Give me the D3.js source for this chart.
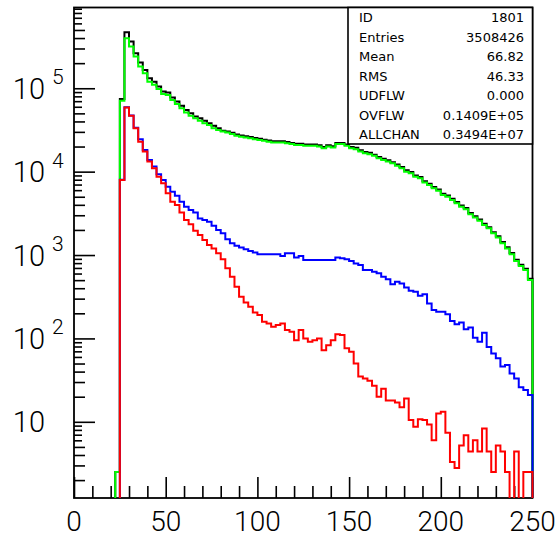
<!DOCTYPE html>
<html>
<head>
<meta charset="utf-8">
<script src="https://cdn.jsdelivr.net/npm/d3@7"></script>
<style>
  html, body { margin: 0; padding: 0; background: #fff; }
  svg { display: block; }
</style>
</head>
<body>
<svg id="chart" width="558" height="538"></svg>
<script>
// ---------------- data ----------------
const xMin = 0, xMax = 250, nBins = 100;          // 100 bins of width 2.5
const yMin = 1.22, yMax = 9.3e5;                   // log axis range

const xMajorTicks = [0, 50, 100, 150, 200, 250];
const xMinorTicks = [10,20,30,40,60,70,80,90,110,120,130,140,160,170,180,190,210,220,230,240];
const yMajorTicks = [10, 100, 1000, 10000, 100000];
const yLabelExponents = ["", "2", "3", "4", "5"];

const blackCounts = [0,0,0,0,0,0,0,0,0,2.5,
 74100,468000,363000,263000,204000,166000,132000,120000,105000,91200,
 89100,77600,69200,61700,55000,50100,45700,43700,40700,38000,
 35500,33100,30900,30200,29200,27800,27200,26600,26000,25400,
 24800,24200,23700,23200,23200,23200,22700,22100,21600,21600,
 21100,21100,21100,20700,19800,20700,20200,22100,22100,21100,
 19800,19300,18000,17200,16800,16000,15000,14300,13700,13000,
 12200,11400,10400,9880,9010,8610,7670,7160,6530,6100,
 5430,5190,4730,4320,3930,3670,3200,2920,2660,2370,
 2160,1880,1680,1430,1240,1060,881,767,684,519];

const greenCounts = [0,0,0,0,0,0,0,0,0,2.5,
 70800,398000,316000,240000,182000,151000,120000,110000,97700,85100,
 83200,72400,64600,57500,51300,46800,43700,40700,38000,36300,
 33100,31600,30200,29500,28200,26900,26300,25700,25100,24500,
 24000,23400,22900,22400,22400,22400,21900,21400,20900,20900,
 20400,20400,20400,20000,19100,20000,19500,21400,21400,20400,
 19100,18600,17400,16600,16200,15500,14500,13800,13200,12600,
 11750,11000,10000,9550,8710,8320,7410,6920,6310,5890,
 5250,5010,4570,4170,3800,3550,3090,2820,2570,2290,
 2090,1820,1620,1380,1200,1020,851,741,661,501];

const blueCounts = [0,0,0,0,0,0,0,0,0,0,
 8000,59000,47000,33500,24500,18200,13800,11500,9330,7940,
 6610,5750,5130,4370,3800,3470,3240,2750,2630,2510,
 2240,2000,1820,1550,1380,1290,1230,1175,1120,1070,
 1020,1020,1020,1020,1020,977,1050,1050,933,977,
 871,871,871,871,871,871,871,933,912,891,
 851,794,759,661,661,631,603,550,513,447,
 479,457,407,372,363,324,339,263,219,209,
 209,195,162,148,155,129,135,102,91,117,
 79,66,58,46,48,38,33,26,24,21];

const redCounts = [0,0,0,0,0,0,0,0,0,0,
 7940,58900,46800,33100,22900,17400,13200,11000,8710,7240,
 5500,4370,3980,3240,2630,2340,1950,1740,1510,1320,
 1200,1050,891,692,550,417,316,269,240,204,
 191,158,151,138,145,151,126,120,95,126,
 100,91,95,100,72,83,95,112,110,76,
 69,50,35,33,31,27,20,25,18,18,
 17,15,19,10.5,8.7,10.7,10.5,9.3,6,12.6,
 13.2,7.4,3.3,2.8,5.2,6.9,4.4,6,4.4,8.3,
 4.4,2.5,5.2,4.4,2.5,0,4.4,0,2.5,2.5];

const statLabels = ["ID", "Entries", "Mean", "RMS", "UDFLW", "OVFLW", "ALLCHAN"];
const statValues = ["1801", "3508426", "66.82", "46.33", "0.000", "0.1409E+05", "0.3494E+07"];

// ---------------- layout ----------------
const L = 74, R = 532.5, T = 7.5, B = 498;
const svg = d3.select("#chart");

const x = d3.scaleLinear().domain([xMin, xMax]).range([L, R]);
const y = d3.scaleLog().domain([yMin, yMax]).range([B, T]);
const binW = (xMax - xMin) / nBins;

// y minor ticks (2..9 per decade)
const yMinorMid = [], yMinorShort = [];
for (let e = 0; e <= 5; e++) {
  for (let m = 2; m <= 9; m++) {
    const v = m * Math.pow(10, e);
    if (v > yMin && v < yMax) (m <= 5 ? yMinorMid : yMinorShort).push(v);
  }
}

// ---------------- frame & axes ----------------
const axisColor = "#000";
const gAxes = svg.append("g");

function styleAxis(g) {
  g.select(".domain").remove();
  g.selectAll(".tick line").attr("stroke", axisColor).attr("stroke-width", 1.6);
  g.selectAll(".tick text").remove();
}

gAxes.append("g").attr("transform", `translate(0,${B})`)
  .call(d3.axisBottom(x).tickValues(xMajorTicks).tickSize(-21).tickFormat("")).call(styleAxis);
gAxes.append("g").attr("transform", `translate(0,${B})`)
  .call(d3.axisBottom(x).tickValues(xMinorTicks).tickSize(-12).tickFormat("")).call(styleAxis);
gAxes.append("g").attr("transform", `translate(${L},0)`)
  .call(d3.axisLeft(y).tickValues(yMajorTicks).tickSize(-21).tickFormat("")).call(styleAxis);
gAxes.append("g").attr("transform", `translate(${L},0)`)
  .call(d3.axisLeft(y).tickValues(yMinorMid).tickSize(-11).tickFormat("")).call(styleAxis);
gAxes.append("g").attr("transform", `translate(${L},0)`)
  .call(d3.axisLeft(y).tickValues(yMinorShort).tickSize(-8).tickFormat("")).call(styleAxis);

gAxes.append("rect")
  .attr("x", L).attr("y", T).attr("width", R - L).attr("height", B - T)
  .attr("fill", "none").attr("stroke", axisColor).attr("stroke-width", 1.8);

// tick labels
const labelFont = "Roboto, 'Liberation Sans', Arial, sans-serif";
gAxes.selectAll("text.xl").data(xMajorTicks).enter().append("text")
  .attr("class", "xl")
  .attr("x", d => x(d)).attr("y", 531)
  .attr("text-anchor", "middle")
  .attr("font-family", labelFont).attr("font-weight", 300).attr("font-size", 28)
  .attr("fill", "#000")
  .text(d => d);

gAxes.selectAll("text.yl").data(yMajorTicks).enter().append("text")
  .attr("class", "yl")
  .attr("x", 45).attr("y", d => y(d) + 10.5)
  .attr("text-anchor", "end")
  .attr("font-family", labelFont).attr("font-weight", 300).attr("font-size", 29)
  .attr("fill", "#000")
  .text("10");

gAxes.selectAll("text.ye").data(yMajorTicks).enter().append("text")
  .attr("class", "ye")
  .attr("x", 52).attr("y", d => y(d) - 4)
  .attr("text-anchor", "start")
  .attr("font-family", labelFont).attr("font-weight", 300).attr("font-size", 21)
  .attr("fill", "#000")
  .text((d, i) => yLabelExponents[i]);

// ---------------- histograms ----------------
svg.append("defs").append("clipPath").attr("id", "plotClip")
  .append("rect").attr("x", L - 2).attr("y", T).attr("width", R - L + 4).attr("height", B - T);

function yv(v) { return v >= yMin ? y(v) : B + 3; }

function stepPath(counts) {
  const p = d3.path();
  p.moveTo(x(xMin), yv(counts[0]));
  counts.forEach((c, i) => {
    p.lineTo(x(xMin + i * binW), yv(c));
    p.lineTo(x(xMin + (i + 1) * binW), yv(c));
  });
  p.lineTo(x(xMax), B + 3);
  return p.toString();
}

const series = [
  { counts: blackCounts, color: "#000000" },
  { counts: greenCounts, color: "#00ff00" },
  { counts: blueCounts,  color: "#0000ff" },
  { counts: redCounts,   color: "#ff0000" }
];

const gHist = svg.append("g").attr("clip-path", "url(#plotClip)");
gHist.selectAll("path").data(series).enter().append("path")
  .attr("d", d => stepPath(d.counts))
  .attr("fill", "none")
  .attr("stroke", d => d.color)
  .attr("stroke-width", 2)
  .attr("stroke-linejoin", "miter");

// ---------------- stats box ----------------
const boxL = 348, boxT = T, boxB = 144;
const gStat = svg.append("g");
gStat.append("rect")
  .attr("x", boxL).attr("y", boxT).attr("width", R - boxL).attr("height", boxB - boxT)
  .attr("fill", "#fff").attr("stroke", "#000").attr("stroke-width", 1.6);

const rowH = (boxB - boxT) / statLabels.length;
const statFont = "'DejaVu Sans', Verdana, sans-serif";
gStat.selectAll("text.sl").data(statLabels).enter().append("text")
  .attr("class", "sl")
  .attr("x", 359).attr("y", (d, i) => boxT + rowH * (i + 0.5) + 4.8)
  .attr("font-family", statFont).attr("font-size", 13).attr("fill", "#000")
  .text(d => d);
gStat.selectAll("text.sv").data(statValues).enter().append("text")
  .attr("class", "sv")
  .attr("x", 524).attr("y", (d, i) => boxT + rowH * (i + 0.5) + 4.8)
  .attr("text-anchor", "end")
  .attr("font-family", statFont).attr("font-size", 13).attr("fill", "#000")
  .text(d => d);
</script>
</body>
</html>
